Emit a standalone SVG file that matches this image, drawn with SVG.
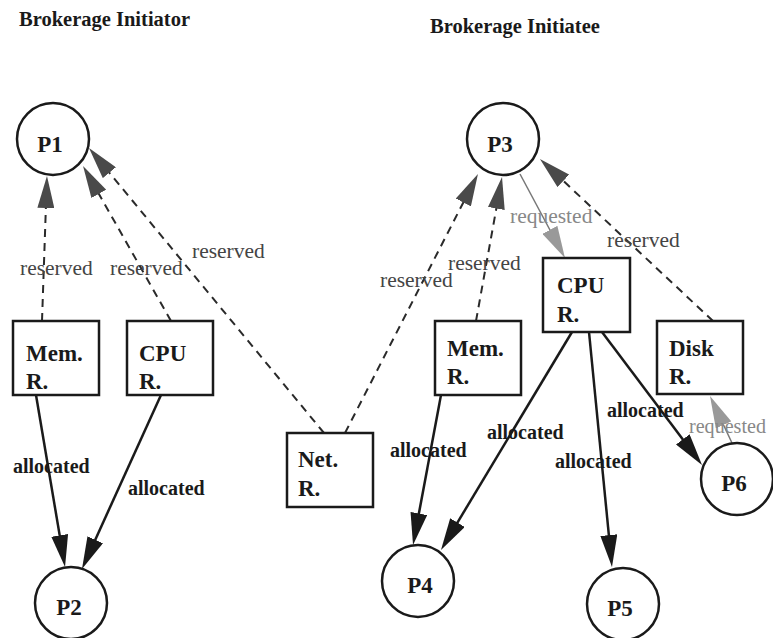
<svg xmlns="http://www.w3.org/2000/svg" width="773" height="638" viewBox="0 0 773 638">
<style>
.node{fill:#fff;stroke:#1a1a1a;stroke-width:2.5}
text{font-family:"Liberation Serif","Times New Roman","DejaVu Serif",serif}
.lbl{font-weight:bold;font-size:23px;fill:#1a1a1a}
.head{font-weight:bold;font-size:20.5px;fill:#1a1a1a}
.alloc{font-weight:bold;font-size:20px;fill:#1a1a1a}
.res{font-size:21.5px;fill:#444}
.req{font-size:21.5px;fill:#888}
.solid{stroke:#1a1a1a;stroke-width:2.5;fill:none;marker-end:url(#ah)}
.dash{stroke:#2a2a2a;stroke-width:2;fill:none;stroke-dasharray:8 6;marker-end:url(#ahr)}
.thin{stroke:#777;stroke-width:1.5;fill:none;marker-end:url(#ahq)}
</style>
<defs>
<marker id="ah" markerUnits="userSpaceOnUse" markerWidth="32" markerHeight="17" refX="24" refY="8.5" orient="auto" viewBox="0 0 32 17"><path d="M0,0 L32,8.5 L0,17 z" fill="#1a1a1a"/></marker>
<marker id="ahr" markerUnits="userSpaceOnUse" markerWidth="32" markerHeight="17" refX="24" refY="8.5" orient="auto" viewBox="0 0 32 17"><path d="M0,0 L32,8.5 L0,17 z" fill="#4a4a4a"/></marker>
<marker id="ahq" markerUnits="userSpaceOnUse" markerWidth="32" markerHeight="17" refX="24" refY="8.5" orient="auto" viewBox="0 0 32 17"><path d="M0,0 L32,8.5 L0,17 z" fill="#999"/></marker>
</defs>
<rect width="773" height="638" fill="#fff"/>
<text class="head" x="19" y="26">Brokerage Initiator</text>
<text class="head" x="430" y="33">Brokerage Initiatee</text>

<g id="connectors">
<line class="dash" x1="42" y1="321" x2="46.7" y2="184"/>
<line class="dash" x1="171" y1="321" x2="87" y2="173"/>
<line class="dash" x1="324" y1="433" x2="94.1" y2="154.2"/>
<line class="dash" x1="345" y1="433" x2="474.3" y2="181.1"/>
<line class="dash" x1="476" y1="321" x2="500.6" y2="184.9"/>
<line class="dash" x1="713" y1="321" x2="545.8" y2="164.5"/>
<line class="thin" x1="520" y1="174" x2="561.2" y2="251"/>
<line class="thin" x1="732" y1="443" x2="713.4" y2="403.2"/>
<line class="solid" x1="36" y1="395" x2="63.7" y2="559.1"/>
<line class="solid" x1="161" y1="395" x2="85.3" y2="561.7"/>
<line class="solid" x1="441" y1="395" x2="414.5" y2="537.1"/>
<line class="solid" x1="572" y1="332" x2="445.1" y2="543.1"/>
<line class="solid" x1="589" y1="332" x2="611.2" y2="559"/>
<line class="solid" x1="602" y1="332" x2="697.2" y2="458.6"/>
<text class="res" x="20" y="275">reserved</text>
<text class="res" x="110" y="275">reserved</text>
<text class="res" x="192" y="258">reserved</text>
<text class="res" x="380" y="287">reserved</text>
<text class="res" x="448" y="270">reserved</text>
<text class="res" x="607" y="247">reserved</text>
<text class="req" x="510" y="223">requested</text>
<text class="req" x="689" y="433" textLength="77" lengthAdjust="spacingAndGlyphs">requested</text>
<text class="alloc" x="13" y="473">allocated</text>
<text class="alloc" x="128" y="495">allocated</text>
<text class="alloc" x="390" y="457">allocated</text>
<text class="alloc" x="487" y="439">allocated</text>
<text class="alloc" x="555" y="468">allocated</text>
<text class="alloc" x="607" y="417">allocated</text>
</g>

<g id="P1"><circle class="node" cx="53" cy="139" r="36"/><text class="lbl" x="50" y="152" text-anchor="middle">P1</text></g>
<g id="P2"><circle class="node" cx="71" cy="603" r="36"/><text class="lbl" x="69" y="615" text-anchor="middle">P2</text></g>
<g id="P3"><circle class="node" cx="503" cy="139" r="36"/><text class="lbl" x="500" y="152" text-anchor="middle">P3</text></g>
<g id="P4"><circle class="node" cx="418" cy="581" r="36"/><text class="lbl" x="420" y="593" text-anchor="middle">P4</text></g>
<g id="P5"><circle class="node" cx="623" cy="604" r="36"/><text class="lbl" x="620" y="616" text-anchor="middle">P5</text></g>
<g id="P6"><circle class="node" cx="737" cy="479" r="36"/><text class="lbl" x="734" y="491" text-anchor="middle">P6</text></g>

<g id="MemR1"><rect class="node" x="13" y="321" width="86" height="74"/><text class="lbl" x="26" y="361">Mem.</text><text class="lbl" x="26" y="389">R.</text></g>
<g id="CPUR1"><rect class="node" x="127" y="321" width="86" height="74"/><text class="lbl" x="139" y="361">CPU</text><text class="lbl" x="139" y="389">R.</text></g>
<g id="NetR"><rect class="node" x="287" y="433" width="86" height="74"/><text class="lbl" x="298" y="467">Net.</text><text class="lbl" x="298" y="496">R.</text></g>
<g id="MemR2"><rect class="node" x="435" y="321" width="86" height="74"/><text class="lbl" x="447" y="356">Mem.</text><text class="lbl" x="447" y="384">R.</text></g>
<g id="CPUR2"><rect class="node" x="543" y="258" width="87" height="74"/><text class="lbl" x="557" y="293">CPU</text><text class="lbl" x="557" y="322">R.</text></g>
<g id="DiskR"><rect class="node" x="657" y="321" width="86" height="73"/><text class="lbl" x="669" y="356">Disk</text><text class="lbl" x="669" y="384">R.</text></g>
</svg>
